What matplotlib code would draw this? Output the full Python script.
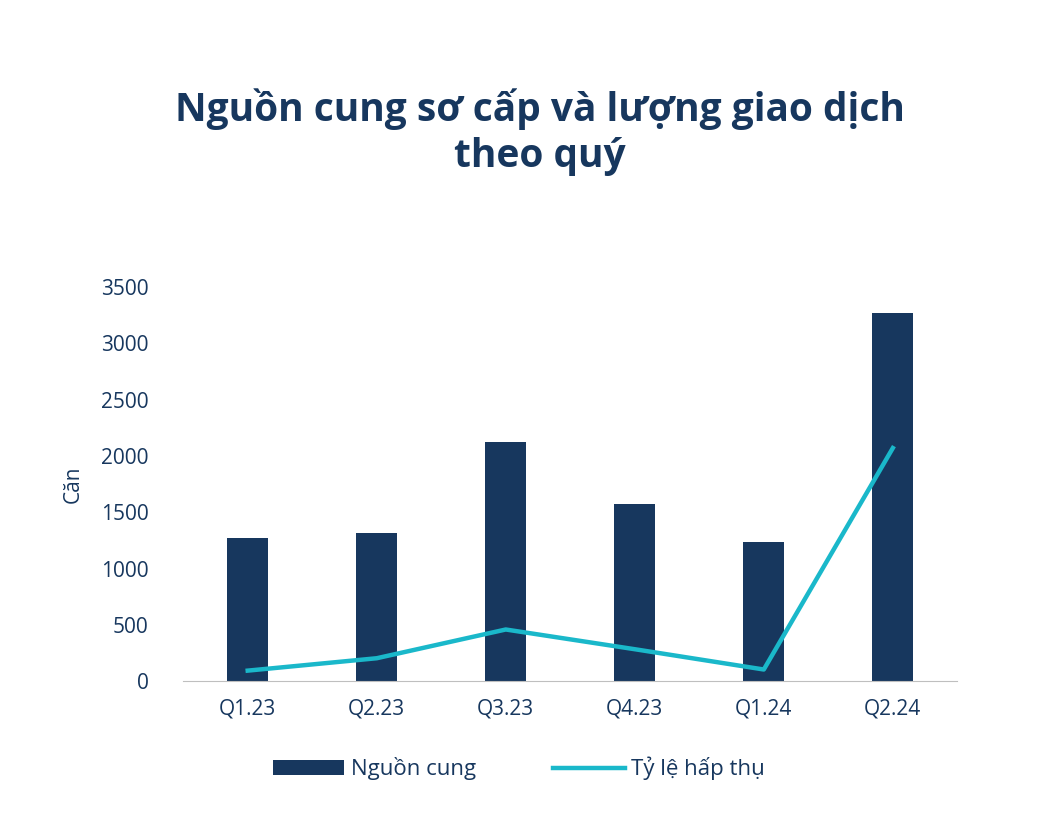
import matplotlib
matplotlib.use("Agg")
import matplotlib.pyplot as plt

categories = ["Q1.23", "Q2.23", "Q3.23", "Q4.23", "Q1.24", "Q2.24"]
supply = [1270, 1315, 2120, 1575, 1235, 3265]
absorption = [95, 205, 460, 285, 105, 2070]
yticks = [0, 500, 1000, 1500, 2000, 2500, 3000, 3500]

plt.rcParams['font.family'] = ['Open Sans', 'DejaVu Sans']
fig = plt.figure(figsize=(10.59, 8.15), dpi=100)
ax = fig.add_axes([0.173, 0.164, 0.731, 0.484])
x = range(len(categories))
b = ax.bar(x, supply, width=0.32, color="#17375E", label="Nguồn cung", zorder=2)
l, = ax.plot(x, absorption, color="#1AB8CA", lw=3.2, label="Tỷ lệ hấp thụ", zorder=3)
ax.set_xlim(-0.5, 5.5)
ax.set_ylim(0, 3500)
ax.set_yticks(yticks)
ax.set_xticks(list(x))
ax.set_xticklabels(categories)
for s in ["top", "right", "left"]:
    ax.spines[s].set_visible(False)
ax.spines["bottom"].set_color("#BFBFBF")
ax.tick_params(axis="both", length=0, labelsize=15, colors="#17375E", pad=12)
ax.tick_params(axis="y", pad=25)
ax.set_ylabel("Căn", fontsize=15, color="#17375E", labelpad=12)
fig.text(0.51, 0.838, "Nguồn cung sơ cấp và lượng giao dịch\ntheo quý", ha="center",
         va="center", fontsize=28, fontweight="bold", color="#17375E", linespacing=1.25)
fig.legend([b, l], ["Nguồn cung", "Tỷ lệ hấp thụ"], loc="center",
           bbox_to_anchor=(0.49, 0.057), ncol=2, frameon=False,
           fontsize=16, labelcolor="#17375E", handlelength=3.2, columnspacing=3.5,
           handletextpad=0.3)
fig.savefig("out.png", dpi=100, facecolor="white")
